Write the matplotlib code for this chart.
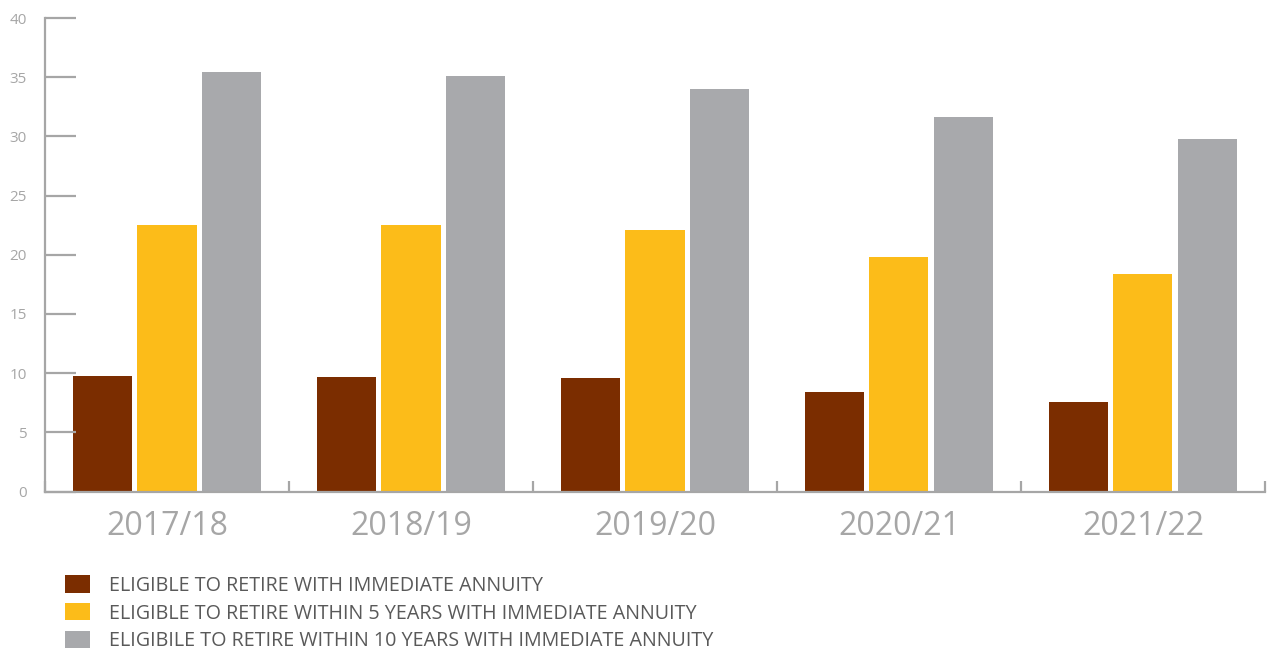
# -*- coding: utf-8 -*-

"""
Staff eligible to retire, by year
"""

import numpy as np
import matplotlib.pyplot as plt
from matplotlib.patches import Patch

years = ["2017/18", "2018/19", "2019/20", "2020/21", "2021/22"]
eligible_now = [9.8, 9.7, 9.6, 8.4, 7.6]
eligible_5yrs = [22.5, 22.5, 22.1, 19.8, 18.4]
eligible_10yrs = [35.4, 35.1, 34.0, 31.6, 29.8]

labels = [
    "ELIGIBLE TO RETIRE WITH IMMEDIATE ANNUITY",
    "ELIGIBLE TO RETIRE WITHIN 5 YEARS WITH IMMEDIATE ANNUITY",
    "ELIGIBILE TO RETIRE WITHIN 10 YEARS WITH IMMEDIATE ANNUITY",
]
colors = ["#7B2D00", "#FCBC19", "#A8A9AC"]
axis_grey = "#A6A6A6"

plt.rcParams["font.family"] = ["Open Sans", "DejaVu Sans"]

fig = plt.figure(figsize=(12.68, 6.53), dpi=100)
ax = fig.add_axes([0.0355, 0.2473, 0.9621, 0.7251])

x = np.arange(len(years))
width = 0.242
step = 0.266
for i, vals in enumerate([eligible_now, eligible_5yrs, eligible_10yrs]):
    ax.bar(x + (i - 1) * step, vals, width, color=colors[i], zorder=1)

ax.set_xlim(-0.5, len(years) - 0.5)
ax.set_ylim(0, 40)
ax.set_yticks(range(0, 41, 5))
ax.set_xticks(x)
ax.set_xticklabels(years)
ax.set_xticks(np.arange(-0.5, len(years)), minor=True)

for side in ["top", "right"]:
    ax.spines[side].set_visible(False)
for side in ["left", "bottom"]:
    ax.spines[side].set_color(axis_grey)
    ax.spines[side].set_linewidth(1.6)
    ax.spines[side].set_zorder(3)

ax.tick_params(axis="y", direction="in", length=22, width=1.6, color=axis_grey,
               labelcolor=axis_grey, labelsize=11, pad=13)
ax.tick_params(axis="x", which="major", length=0, labelcolor=axis_grey,
               labelsize=23, pad=13)
ax.tick_params(axis="x", which="minor", direction="in", length=8, width=1.6,
               color=axis_grey)

handles = [Patch(facecolor=c, edgecolor="none") for c in colors]
fig.legend(handles, labels, loc="upper left", bbox_to_anchor=(0.051, 0.119),
           frameon=False, fontsize=14.2, labelcolor="#595959",
           handlelength=1.28, handleheight=0.97, handletextpad=0.97,
           labelspacing=0.38, borderaxespad=0, borderpad=0)

fig.savefig("out.png", dpi=100)
